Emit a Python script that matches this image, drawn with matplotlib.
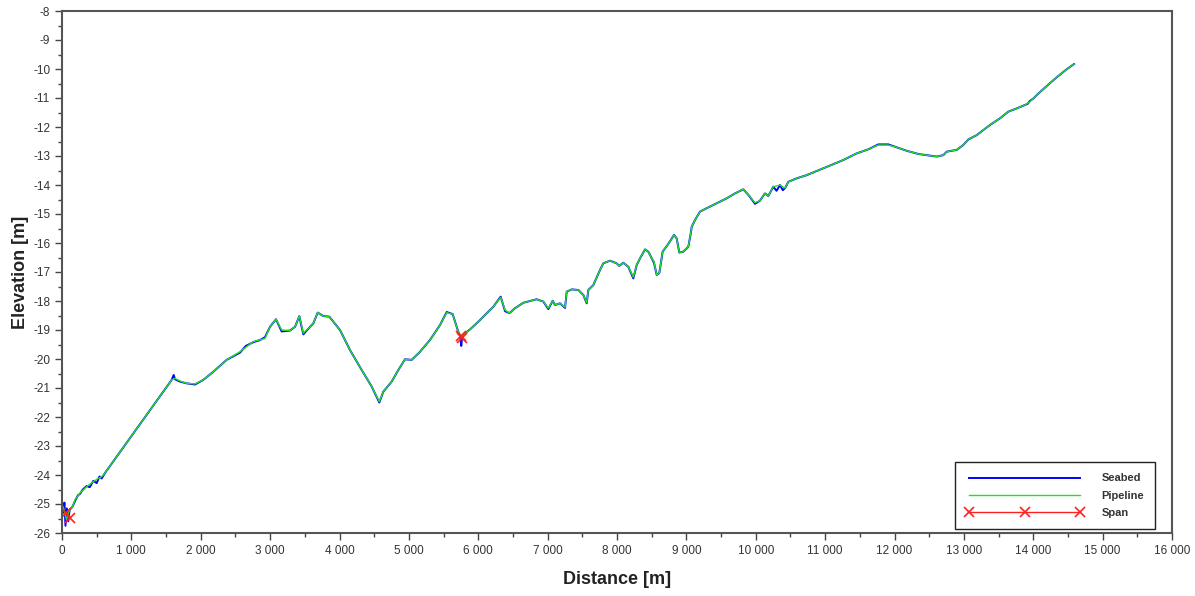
import numpy as np
import matplotlib.pyplot as plt
from matplotlib.ticker import MultipleLocator, FuncFormatter

# Pipeline profile (distance [m], elevation [m])
pipeDist = [0, 30, 65, 100, 150, 187, 260, 356, 452, 520, 572, 620, 1581, 1629, 1700,
            1797, 1917, 2037, 2181, 2373, 2566, 2758, 2926, 2998, 3085, 3166, 3287, 3359,
            3421, 3479, 3575, 3623, 3686, 3767, 3853, 4007, 4151, 4320, 4464, 4574, 4631,
            4752, 4848, 4944, 5041, 5161, 5305, 5449, 5545, 5631, 5712, 5761, 5881, 6025,
            6073, 6217, 6323, 6386, 6448, 6530, 6650, 6842, 6938, 7010, 7073, 7106, 7178,
            7251, 7275, 7347, 7443, 7514, 7563, 7587, 7659, 7755, 7803, 7899, 7995, 8033,
            8091, 8163, 8235, 8284, 8332, 8404, 8452, 8500, 8533, 8572, 8610, 8658, 8740,
            8822, 8860, 8898, 8956, 9028, 9063, 9077, 9124, 9196, 9293, 9437, 9581, 9701,
            9821, 9893, 9989, 10061, 10133, 10181, 10253, 10350, 10422, 10469, 10590, 10734,
            10926, 11118, 11262, 11455, 11623, 11767, 11911, 12032, 12176, 12343, 12464,
            12608, 12704, 12752, 12896, 12992, 13064, 13185, 13377, 13521, 13641, 13761,
            13881, 13953, 14049, 14193, 14337, 14481, 14588]
pipeElev = [-25.0, -25.2, -25.55, -25.25, -25.1, -24.86, -24.62, -24.40, -24.23, -24.12,
            -24.06, -23.93, -20.72, -20.67, -20.76, -20.84, -20.86, -20.72, -20.44, -20.03,
            -19.75, -19.40, -19.29, -18.89, -18.63, -19.0, -19.02, -18.89, -18.52, -19.11,
            -18.89, -18.77, -18.40, -18.52, -18.54, -19.0, -19.69, -20.38, -20.95, -21.47,
            -21.13, -20.78, -20.38, -20.01, -20.03, -19.75, -19.34, -18.83, -18.40, -18.45,
            -19.06, -19.23, -18.98, -18.66, -18.54, -18.20, -17.87, -18.31, -18.42, -18.25,
            -18.06, -17.94, -18.02, -18.25, -17.99, -18.14, -18.08, -18.22, -17.68, -17.60,
            -17.62, -17.79, -18.06, -17.62, -17.45, -16.93, -16.70, -16.61, -16.70, -16.79,
            -16.68, -16.82, -17.18, -16.76, -16.53, -16.22, -16.30, -16.53, -16.64, -17.10,
            -17.04, -16.30, -16.03, -15.72, -15.84, -16.33, -16.30, -16.13, -15.67, -15.44,
            -15.21, -14.92, -14.80, -14.63, -14.46, -14.29, -14.15, -14.34, -14.61, -14.54,
            -14.29, -14.38, -14.06, -14.00, -14.11, -13.89, -13.77, -13.66, -13.47, -13.28,
            -13.14, -12.91, -12.77, -12.62, -12.62, -12.70, -12.82, -12.93, -12.97, -13.02,
            -12.97, -12.85, -12.79, -12.62, -12.43, -12.28, -11.93, -11.70, -11.47, -11.36,
            -11.24, -11.13, -10.90, -10.59, -10.29, -10.01, -9.83]

# Seabed only differs where it is rough or where the pipe spans
seabedDist = [0, 20, 35, 50, 70, 90, 110, 150, 187, 230, 260, 300, 356, 400, 452, 500,
              540, 572, 620, 1581, 1610, 1629, 1700, 1797, 1917, 2037, 2181, 2373, 2566,
              2650, 2758, 2850, 2926, 2998, 3085, 3166, 3287, 3359, 3421, 3450, 3479,
              3575, 3623, 3686, 3767, 3853, 4007, 4151, 4320, 4464, 4574, 4631, 4752,
              4848, 4944, 5041, 5161, 5305, 5449, 5545, 5631, 5712, 5740, 5755, 5765,
              5790, 5881, 6025, 6073, 6217, 6323, 6386, 6448, 6530, 6650, 6842, 6938,
              7010, 7073, 7106, 7178, 7251, 7275, 7347, 7443, 7514, 7563, 7587, 7659,
              7755, 7803, 7899, 7995, 8033, 8091, 8163, 8235, 8284, 8332, 8404, 8452,
              8500, 8533, 8572, 8610, 8658, 8740, 8822, 8860, 8898, 8956, 9028, 9063,
              9077, 9124, 9196, 9293, 9437, 9581, 9701, 9821, 9893, 9960, 9989, 10061,
              10133, 10181, 10253, 10300, 10350, 10390, 10422, 10469, 10590, 10734,
              10926, 11118, 11262, 11455, 11623, 11767, 11911, 12032, 12176, 12343,
              12464, 12608, 12704, 12752, 12896, 12992, 13064, 13185, 13377, 13521,
              13641, 13761, 13881, 13920, 13953, 14000, 14049, 14193, 14337, 14481,
              14588]
seabedElev = [-24.95, -25.3, -24.95, -25.75, -25.15, -25.6, -25.2, -25.1, -24.9, -24.7,
              -24.65, -24.5, -24.38, -24.42, -24.2, -24.28, -24.05, -24.12, -23.93,
              -20.72, -20.55, -20.7, -20.78, -20.84, -20.88, -20.72, -20.44, -20.03,
              -19.78, -19.55, -19.42, -19.35, -19.25, -18.89, -18.63, -19.05, -19.02,
              -18.89, -18.52, -18.85, -19.15, -18.89, -18.77, -18.40, -18.52, -18.54,
              -19.0, -19.69, -20.38, -20.95, -21.5, -21.13, -20.78, -20.38, -20.01,
              -20.03, -19.75, -19.34, -18.83, -18.38, -18.45, -19.06, -19.2, -19.55,
              -19.3, -19.15, -18.98, -18.66, -18.54, -18.20, -17.85, -18.35, -18.42,
              -18.25, -18.06, -17.94, -18.02, -18.28, -17.99, -18.14, -18.08, -18.24,
              -17.68, -17.60, -17.62, -17.79, -18.08, -17.62, -17.45, -16.93, -16.70,
              -16.61, -16.70, -16.79, -16.68, -16.82, -17.22, -16.76, -16.53, -16.22,
              -16.30, -16.53, -16.68, -17.10, -17.04, -16.30, -16.03, -15.72, -15.84,
              -16.33, -16.30, -16.13, -15.67, -15.44, -15.21, -14.92, -14.80, -14.63,
              -14.46, -14.29, -14.15, -14.34, -14.55, -14.65, -14.54, -14.29, -14.38,
              -14.06, -14.2, -14.0, -14.18, -14.11, -13.89, -13.77, -13.66, -13.47,
              -13.28, -13.14, -12.91, -12.77, -12.60, -12.60, -12.70, -12.82, -12.93,
              -12.97, -13.02, -12.97, -12.85, -12.79, -12.62, -12.43, -12.28, -11.93,
              -11.70, -11.47, -11.36, -11.24, -11.20, -11.10, -11.02, -10.90, -10.59,
              -10.29, -10.01, -9.83]

# Free spans (marker pairs)
span1Dist = [53, 115]
span1Elev = [-25.32, -25.49]
span2Dist = [5745, 5765]
span2Elev = [-19.22, -19.28]

xTicks = np.arange(0, 16001, 1000)
yTicks = np.arange(-26, -7, 1)

plt.rcParams['font.family'] = ['Liberation Sans', 'DejaVu Sans']

fig = plt.figure(figsize=(11.95, 5.96), dpi=100)
ax = fig.add_axes([62/1195, 63/596, 1110/1195, 522/596])

ax.plot(seabedDist, seabedElev, '-', color='#0000ff', lw=1.4, label='Seabed')
ax.plot(pipeDist, pipeElev, '-', color='#22e022', lw=1.0, label='Pipeline')
ax.plot(span1Dist, span1Elev, '-x', color='#ff2020', lw=1.0, ms=7, mew=1.2, label='Span')
ax.plot(span2Dist, span2Elev, '-x', color='#ff2020', lw=1.0, ms=7, mew=1.2)

ax.set_xlim(0, 16000)
ax.set_ylim(-26, -8)
ax.set_xticks(xTicks)
ax.set_yticks(yTicks)
ax.xaxis.set_minor_locator(MultipleLocator(500))
ax.yaxis.set_minor_locator(MultipleLocator(0.5))
ax.xaxis.set_major_formatter(FuncFormatter(lambda v, p: '{:,}'.format(int(v)).replace(',', ' ')))
ax.yaxis.set_major_formatter(FuncFormatter(lambda v, p: str(int(v))))
ax.tick_params(which='major', direction='out', length=5, width=1, colors='#444444', labelsize=8.5, labelcolor='#333333')
ax.tick_params(which='minor', direction='out', length=3, width=1, colors='#444444')
for s in ax.spines.values():
    s.set_color('#555555')
    s.set_linewidth(1.5)

ax.set_xlabel('Distance [m]', fontsize=13, fontweight='bold', color='#222222', labelpad=10)
ax.set_ylabel('Elevation [m]', fontsize=13, fontweight='bold', color='#222222', labelpad=3)

leg = ax.legend(loc='lower right', bbox_to_anchor=(1155/1195, 67/596), bbox_transform=fig.transFigure,
                numpoints=3, handlelength=10.6, fancybox=False, edgecolor='#222222', framealpha=1,
                prop={'size': 8, 'weight': 'bold'}, borderpad=1.0, labelspacing=0.65,
                handletextpad=1.6, borderaxespad=0)
leg.get_frame().set_linewidth(1.0)
for t in leg.get_texts():
    t.set_color('#333333')

fig.savefig('out.png', dpi=100)
